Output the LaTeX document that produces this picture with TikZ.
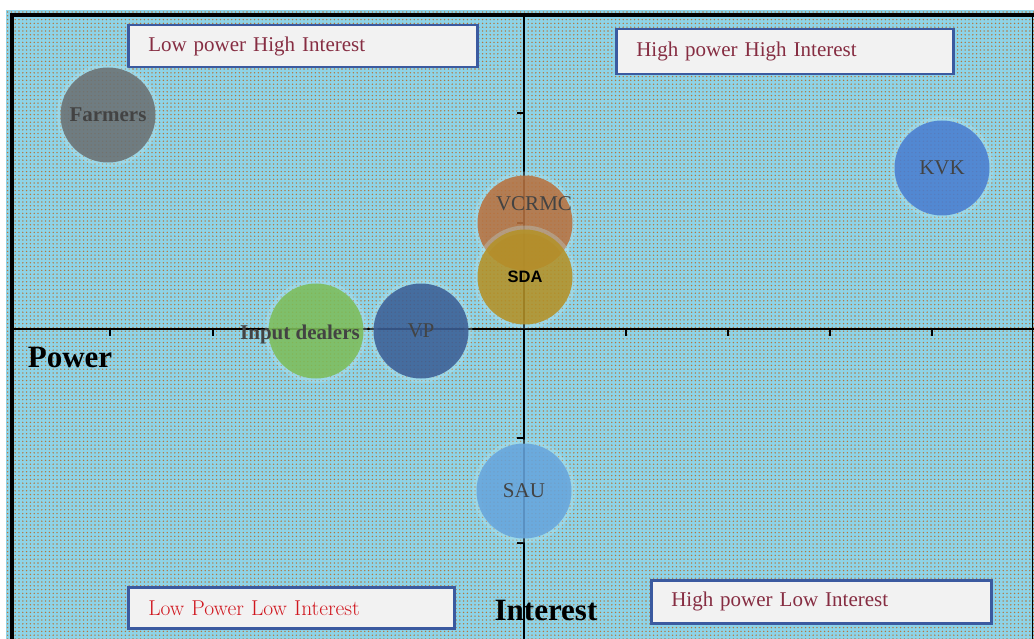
\documentclass[tikz,border=0pt]{standalone}
\usepackage{fontspec}
\newfontfamily\tnr{Liberation Serif}
\newfontfamily\sansb{Liberation Sans}
\usetikzlibrary{patterns.meta}
\definecolor{bgblue}{HTML}{8ED3E7}
\definecolor{dotbrown}{HTML}{B4753A}
\definecolor{boxblue}{HTML}{3B5AA0}
\definecolor{boxfill}{HTML}{F2F2F2}
\definecolor{labred}{HTML}{862D42}
\definecolor{brightred}{HTML}{D0161E}
\definecolor{txtgray}{HTML}{434343}
\definecolor{cfarm}{HTML}{6B7173}
\definecolor{ckvk}{HTML}{4A7ED0}
\definecolor{cvcrmc}{HTML}{B87240}
\definecolor{csda}{HTML}{B49127}
\definecolor{cinput}{HTML}{7DBD5A}
\definecolor{cvp}{HTML}{3C5F96}
\definecolor{csau}{HTML}{67A5DC}
\definecolor{haloc}{HTML}{B8E6F0}
\tikzset{
  stake/.style={circle, minimum size=95pt, inner sep=0pt, fill opacity=0.88, text opacity=1,
    preaction={draw=haloc, draw opacity=0.3, line width=8pt},
    font=\tnr\fontsize{21}{24}\selectfont, text=txtgray},
  quad/.style={draw=boxblue, line width=2.5pt, fill=boxfill, anchor=north west,
    inner xsep=20pt, inner ysep=0pt, align=left,
    font=\tnr\fontsize{21}{24}\selectfont, text=labred},
  axislabel/.style={font=\tnr\bfseries\fontsize{31}{34}\selectfont, text=black, inner sep=0pt},
  tick/.style={line width=1.5pt}
}
\begin{document}
\begin{tikzpicture}[x=1pt,y=-1pt]
\useasboundingbox (0,0) rectangle (1034,639);
\fill[white] (0,0) rectangle (1034,639);
\fill[bgblue] (6,10) rectangle (1034,639);
\fill[pattern={Dots[distance=3.8pt,radius=0.78pt]}, pattern color=dotbrown] (6,10) rectangle (1034,639);
% frame
\draw[line width=4pt] (12,639) -- (12,15.5) -- (1034,15.5);
\draw[line width=1pt] (1032,15.5) -- (1032,639);
% axes
\draw[line width=2pt] (12,329) -- (1034,329);
\draw[line width=2pt] (524,15.5) -- (524,639);
\foreach \x in {110,213,318,421,626,728,830,932} \draw[tick] (\x,329) -- (\x,336);
\foreach \y in {113,223,438,543} \draw[tick] (517,\y) -- (524,\y);
% quadrant labels
\node[quad, text width=309pt, minimum height=42pt] (lphi) at (127,24) {Low power High Interest};
\node[quad, text width=297pt, minimum height=45pt] (hphi) at (615,28) {High power High Interest};
\node[quad, text width=286pt, minimum height=41pt, font=\fontsize{21.5}{24}\selectfont, text=brightred] (lpli) at (127,586) {Low Power Low Interest};
\node[quad, text width=300pt, minimum height=43pt] (hpli) at (650,579) {High power Low Interest};
% axis labels
\node[axislabel] (power) at (70,358) {Power};
\node[axislabel] (interest) at (546,610) {Interest};
% stakeholders
\node[stake, fill=cfarm, font=\tnr\bfseries\fontsize{21}{24}\selectfont] (farmers) at (108,115) {Farmers};
\node[stake, fill=ckvk] (kvk) at (942,168) {KVK};
\node[stake, fill=cvcrmc] (vcrmc) at (525,223) {};
\node[stake, fill=csda, font=\sansb\bfseries\fontsize{16.5}{19}\selectfont, text=black] (sda) at (525,277) {SDA};
\node[stake, fill=cinput] (input) at (316,331) {};
\node[stake, fill=cvp] (vp) at (421,331) {VP};
\node[stake, fill=csau] (sau) at (524,491) {SAU};
\node[font=\tnr\fontsize{21}{24}\selectfont, text=txtgray, inner sep=0pt] (vcrmctext) at (534,204) {VCRMC};
\node[font=\tnr\bfseries\fontsize{21}{24}\selectfont, text=txtgray, inner sep=0pt] (inputtext) at (300,334) {Input dealers};
\end{tikzpicture}
\end{document}
